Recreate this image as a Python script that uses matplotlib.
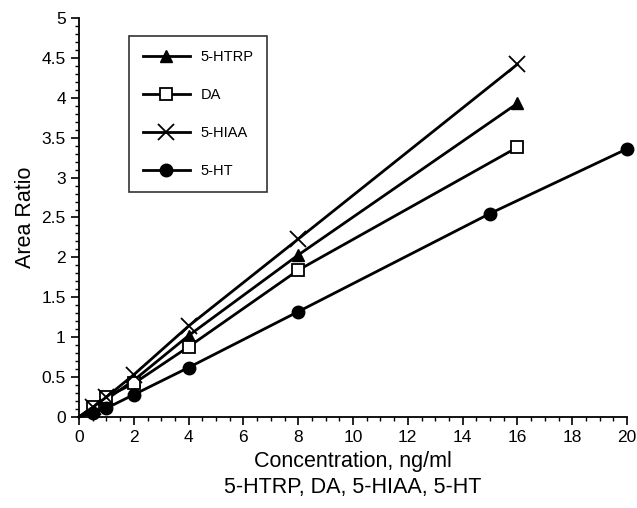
import matplotlib
matplotlib.use('Agg')
import matplotlib.pyplot as plt
from matplotlib.ticker import MultipleLocator, FuncFormatter

plt.rcParams['font.family'] = ['Liberation Sans', 'DejaVu Sans']

# calibration data
x_std = [0, 0.5, 1, 2, 4, 8, 16]
htrp = [0, 0.10, 0.22, 0.46, 1.02, 2.03, 3.93]
da = [0, 0.13, 0.25, 0.42, 0.88, 1.84, 3.38]
hiaa = [0, 0.12, 0.25, 0.53, 1.14, 2.23, 4.42]
x_ht = [0, 0.5, 1, 2, 4, 8, 15, 20]
ht = [0, 0.05, 0.11, 0.28, 0.62, 1.32, 2.55, 3.36]

fig = plt.figure(figsize=(6.37, 5.08), dpi=100)
ax = fig.add_axes([79 / 637, 1 - 417 / 508, 548 / 637, 399 / 508])

lw = 2
me = slice(1, None)  # no marker at the origin
ax.plot(x_std, htrp, color='black', lw=lw, marker='^', ms=9, markevery=me, label='5-HTRP', clip_on=False)
ax.plot(x_std, da, color='black', lw=lw, marker='s', ms=9, mfc='white', mew=1.3, markevery=me,
        label='DA', clip_on=False)
ax.plot(x_std, hiaa, color='black', lw=lw, marker='x', ms=11, mew=1.3, markevery=me, label='5-HIAA', clip_on=False)
ax.plot(x_ht, ht, color='black', lw=lw, marker='o', ms=9, markevery=me, label='5-HT', clip_on=False)

ax.set_xlim(0, 20)
ax.set_ylim(0, 5)
ax.xaxis.set_major_locator(MultipleLocator(2))
ax.xaxis.set_minor_locator(MultipleLocator(0.5))
ax.yaxis.set_major_locator(MultipleLocator(0.5))
ax.yaxis.set_minor_locator(MultipleLocator(0.1))
ax.yaxis.set_major_formatter(FuncFormatter(lambda v, p: f'{v:g}'))
ax.tick_params(which='major', direction='out', length=6, width=1.2, labelsize=12.5)
ax.tick_params(which='minor', direction='out', length=3, width=1)
for s in ['top', 'right']:
    ax.spines[s].set_visible(False)
for s in ['left', 'bottom']:
    ax.spines[s].set_linewidth(1.3)

ax.set_xlabel('Concentration, ng/ml\n5-HTRP, DA, 5-HIAA, 5-HT', fontsize=15.5, linespacing=1.3)
ax.set_ylabel('Area Ratio', fontsize=15.5)

leg = ax.legend(loc='upper left', bbox_to_anchor=(50 / 548, 381 / 399), borderaxespad=0,
                frameon=True, fancybox=False, edgecolor='black', labelspacing=1.65,
                handlelength=3.2, borderpad=0.95, handletextpad=0.75, fontsize=10.5)
leg.get_frame().set_linewidth(1.2)

fig.savefig('out.png', dpi=100)
